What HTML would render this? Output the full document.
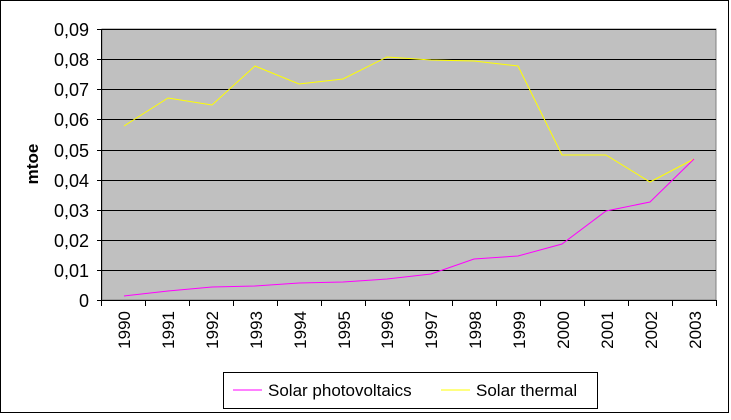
<!DOCTYPE html><html><head><style>body{margin:0;background:#fff}</style></head><body>
<svg width="731" height="415" xmlns="http://www.w3.org/2000/svg" font-family="Liberation Sans, Arial, sans-serif">
<rect x="0" y="0" width="731" height="415" fill="#fff"/>
<rect x="0.5" y="0.5" width="728" height="412" fill="none" stroke="#000"/>
<rect x="102" y="29" width="614" height="271" fill="#c0c0c0" stroke="#808080"/>
<g stroke="#000" stroke-width="1">
<line x1="102" y1="29.5" x2="716" y2="29.5"/><line x1="102" y1="59.5" x2="716" y2="59.5"/><line x1="102" y1="89.5" x2="716" y2="89.5"/><line x1="102" y1="119.5" x2="716" y2="119.5"/><line x1="102" y1="150.5" x2="716" y2="150.5"/><line x1="102" y1="180.5" x2="716" y2="180.5"/><line x1="102" y1="210.5" x2="716" y2="210.5"/><line x1="102" y1="240.5" x2="716" y2="240.5"/><line x1="102" y1="270.5" x2="716" y2="270.5"/>
<line x1="101.5" y1="29" x2="101.5" y2="300"/><line x1="102" y1="300.5" x2="716" y2="300.5"/>
</g>
<g stroke="#000">
<path d="M97 29.5h5M97 59.5h5M97 89.5h5M97 119.5h5M97 150.5h5M97 180.5h5M97 210.5h5M97 240.5h5M97 270.5h5M97 300.5h5"/>
<path d="M101.5 300v6M145.5 300v6M189.5 300v6M233.5 300v6M277.5 300v6M321.5 300v6M365.5 300v6M409.5 300v6M452.5 300v6M496.5 300v6M540.5 300v6M584.5 300v6M628.5 300v6M672.5 300v6M716.5 300v6"/>
</g>
<g font-size="18" text-anchor="end">
<text x="89" y="36">0,09</text><text x="89" y="66">0,08</text><text x="89" y="96">0,07</text><text x="89" y="126">0,06</text><text x="89" y="157">0,05</text><text x="89" y="187">0,04</text><text x="89" y="217">0,03</text><text x="89" y="247">0,02</text><text x="89" y="277">0,01</text><text x="89" y="307">0</text>
</g>
<text transform="translate(38,164) rotate(-90)" font-size="17" font-weight="bold" text-anchor="middle">mtoe</text>
<g font-size="17" text-anchor="end">
<text transform="translate(130,311) rotate(-90)">1990</text><text transform="translate(174,311) rotate(-90)">1991</text><text transform="translate(218,311) rotate(-90)">1992</text><text transform="translate(262,311) rotate(-90)">1993</text><text transform="translate(306,311) rotate(-90)">1994</text><text transform="translate(350,311) rotate(-90)">1995</text><text transform="translate(393,311) rotate(-90)">1996</text><text transform="translate(437,311) rotate(-90)">1997</text><text transform="translate(481,311) rotate(-90)">1998</text><text transform="translate(525,311) rotate(-90)">1999</text><text transform="translate(569,311) rotate(-90)">2000</text><text transform="translate(613,311) rotate(-90)">2001</text><text transform="translate(657,311) rotate(-90)">2002</text><text transform="translate(701,311) rotate(-90)">2003</text>
</g>
<polyline fill="none" stroke="#ffff00" stroke-width="1" points="124,126 168,98 212,105 255,66 299,84 343,79 387,57 431,60 474,61 518,66 562,155 606,155 650,182 694,159"/>
<polyline fill="none" stroke="#ff00ff" stroke-width="1" points="124,296 168,291 212,287 255,286 299,283 343,282 387,279 431,274 474,259 518,256 562,244 606,211 650,202 694,159"/>
<rect x="223.5" y="372.5" width="374" height="36" fill="#fff" stroke="#000"/>
<line x1="233" y1="390" x2="262" y2="390" stroke="#ff00ff"/>
<text x="268" y="396" font-size="17">Solar photovoltaics</text>
<line x1="441" y1="390" x2="470" y2="390" stroke="#ffff00"/>
<text x="476" y="396" font-size="17">Solar thermal</text>
</svg>
</body></html>
